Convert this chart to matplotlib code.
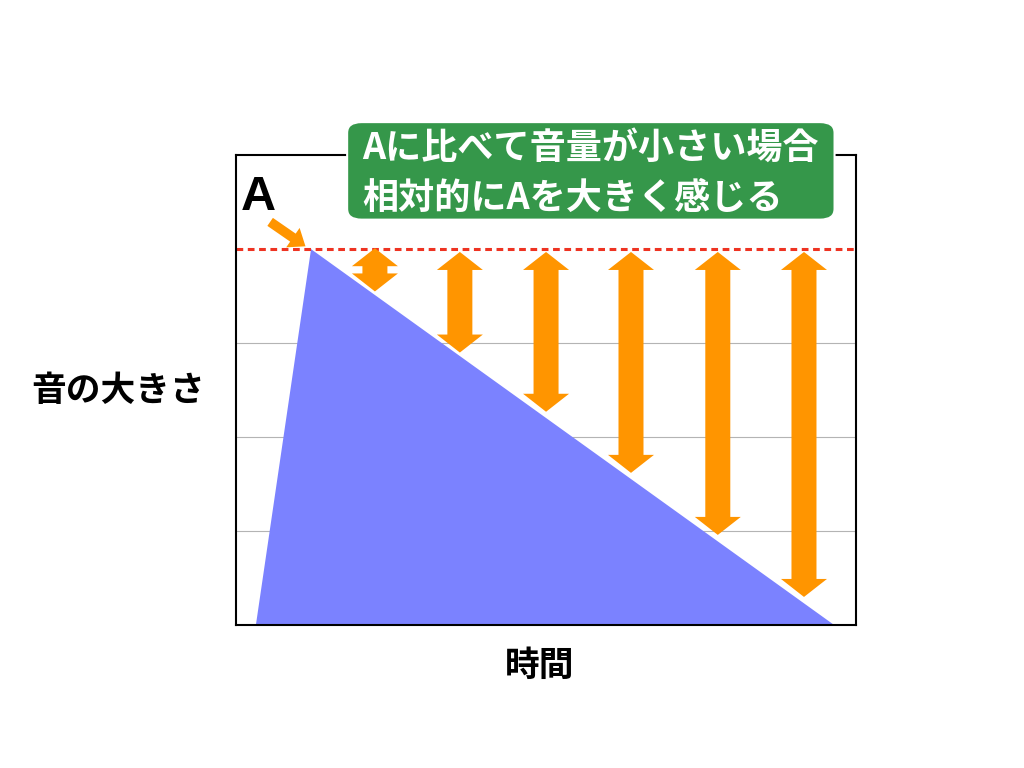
import matplotlib
matplotlib.use('Agg')
import matplotlib.pyplot as plt
from matplotlib.patches import FancyArrowPatch, FancyBboxPatch, Polygon

plt.rcParams['font.family'] = ['Noto Sans CJK JP', 'DejaVu Sans']

# loudness envelope (time, loudness)
env_x = [0.32, 1.21, 9.65]
env_y = [0.0, 4.0, 0.0]

peak_level = 4.0

# double arrows: x position, top and bottom level
arrow_x = [2.24, 3.61, 5.00, 6.37, 7.77, 9.16]
arrow_top = [4.01, 3.97, 3.97, 3.97, 3.97, 3.97]
arrow_bottom = [3.55, 2.90, 2.27, 1.62, 0.96, 0.30]

# small pointer at A
pointer_from = (0.55, 4.29)
pointer_to = (1.12, 4.03)

title_lines = ['Aに比べて音量が小さい場合', '相対的にAを大きく感じる']
xlabel = '時間'
ylabel = '音の大きさ'

orange = '#ff9500'

fig = plt.figure(figsize=(10.24, 7.68), dpi=100)
ax = fig.add_axes([0.2305, 0.186, 0.6055, 0.612])
ax.set_xlim(0, 10)
ax.set_ylim(0, 5)
ax.set_xticks([])
ax.set_yticks([])
for y in [1, 2, 3]:
    ax.axhline(y, color='#b4b4b4', lw=0.8, zorder=0)
for s in ax.spines.values():
    s.set_linewidth(1.5)
    s.set_color('black')

ax.fill(env_x, env_y, color='#7b82ff', lw=0, zorder=1)
ax.axhline(peak_level, color='#ee3322', lw=2.2, dashes=(2.2, 1.5), zorder=2)

# arrow shape sizes in pixels -> data units
bb = ax.get_window_extent()
ux = 10 / bb.width
uy = 5 / bb.height
hw, sw, hl = 23 * ux, 12.5 * ux, 18 * uy

for x, top, bot in zip(arrow_x, arrow_top, arrow_bottom):
    pts = [(x, top), (x + hw, top - hl), (x + sw, top - hl),
           (x + sw, bot + hl), (x + hw, bot + hl), (x, bot),
           (x - hw, bot + hl), (x - sw, bot + hl), (x - sw, top - hl),
           (x - hw, top - hl)]
    ax.add_patch(Polygon(pts, closed=True, facecolor=orange, lw=0, zorder=3))

ax.add_patch(FancyArrowPatch(pointer_from, pointer_to,
                             arrowstyle='simple,head_length=11,head_width=17,tail_width=7',
                             mutation_scale=1, color=orange, lw=0,
                             shrinkA=0, shrinkB=0, zorder=3, clip_on=False))
ax.text(0.36, 4.55, 'A', fontsize=35, fontweight='bold', color='black',
        ha='center', va='center', fontfamily=['Liberation Sans', 'DejaVu Sans'])

# green note box
box = FancyBboxPatch((0.339, 0.714), 0.476, 0.127,
                     boxstyle='round,pad=0,rounding_size=0.014',
                     transform=fig.transFigure, facecolor='#35974a',
                     edgecolor='white', lw=1.5, zorder=5)
fig.patches.append(box)
fig.text(0.3535, 0.807, title_lines[0], fontsize=26, fontweight='bold',
         color='white', ha='left', va='center', zorder=6)
fig.text(0.3535, 0.742, title_lines[1], fontsize=26, fontweight='bold',
         color='white', ha='left', va='center', zorder=6)

fig.text(0.115, 0.492, ylabel, fontsize=25, fontweight='bold',
         ha='center', va='center')
fig.text(0.527, 0.134, xlabel, fontsize=25, fontweight='bold',
         ha='center', va='center')

fig.savefig('out.png', dpi=100)
